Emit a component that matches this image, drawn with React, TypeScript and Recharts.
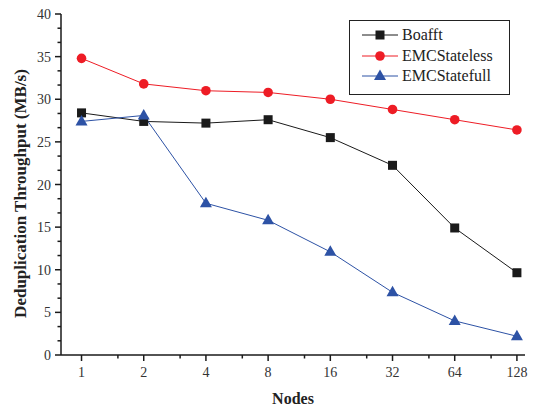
import React from 'react';
import { LineChart, Line, XAxis, YAxis, Legend } from 'recharts';

const nodes = [1, 2, 4, 8, 16, 32, 64, 128];
const boafft = [28.4, 27.4, 27.2, 27.6, 25.5, 22.25, 14.9, 9.65];
const emcStateless = [34.8, 31.8, 31.0, 30.8, 30.0, 28.8, 27.6, 26.4];
const emcStatefull = [27.4, 28.1, 17.8, 15.8, 12.1, 7.35, 4.0, 2.2];

const data = nodes.map((n, i) => ({
  x: Math.log2(n),
  Boafft: boafft[i],
  EMCStateless: emcStateless[i],
  EMCStatefull: emcStatefull[i],
}));

const FONT = '"Liberation Serif", "Times New Roman", serif';
const BLACK = '#1a1a1a';
const RED = '#ee1c25';
const BLUE = '#2d52a5';

const xTicks: number[] = [];
for (let k = 0; k <= 7; k++) {
  xTicks.push(k);
  if (k < 7) xTicks.push(k + Math.log2(1.5));
}
const yTicks: number[] = [];
for (let i = 0; i <= 24; i++) yTicks.push((i * 5) / 3);

const Square = (props: any) => {
  const { cx, cy, fill } = props;
  if (cx == null || cy == null) return null;
  return <rect x={cx - 4.5} y={cy - 4.5} width={9} height={9} fill={fill} />;
};
const Circle = (props: any) => {
  const { cx, cy, fill } = props;
  if (cx == null || cy == null) return null;
  return <circle cx={cx} cy={cy} r={4.8} fill={fill} />;
};
const Triangle = (props: any) => {
  const { cx, cy, fill } = props;
  if (cx == null || cy == null) return null;
  return <polygon points={`${cx},${cy - 6.5} ${cx + 6},${cy + 4} ${cx - 6},${cy + 4}`} fill={fill} />;
};

const series = [
  { key: 'Boafft', color: BLACK, Shape: Square },
  { key: 'EMCStateless', color: RED, Shape: Circle },
  { key: 'EMCStatefull', color: BLUE, Shape: Triangle },
];

const XTick = (props: any) => {
  const { x, y, payload } = props;
  const v = payload.value;
  const major = Math.abs(v - Math.round(v)) < 1e-6;
  return (
    <g>
      <line x1={x} x2={x} y1={y} y2={y + (major ? 6 : 3.5)} stroke={BLACK} strokeWidth={1.5} />
      {major && (
        <text x={x} y={y + 22} textAnchor="middle" fontFamily={FONT} fontSize={14} fill="#333">
          {nodes[Math.round(v)]}
        </text>
      )}
    </g>
  );
};

const YTick = (props: any) => {
  const { x, y, payload } = props;
  const v = payload.value;
  const major = Math.abs(v / 5 - Math.round(v / 5)) < 1e-6;
  return (
    <g>
      <line x1={x - (major ? 6 : 3.5)} x2={x} y1={y} y2={y} stroke={BLACK} strokeWidth={1.5} />
      {major && (
        <text x={x - 10} y={y + 5} textAnchor="end" fontFamily={FONT} fontSize={14} fill="#333">
          {Math.round(v)}
        </text>
      )}
    </g>
  );
};

const LegendBox = () => (
  <div
    style={{
      border: '1px solid #222',
      background: '#fff',
      width: 159,
      height: 69,
      boxSizing: 'content-box',
      fontFamily: FONT,
      fontSize: 16,
      color: '#222',
      paddingTop: 4,
    }}
  >
    {series.map((s) => (
      <div key={s.key} style={{ display: 'flex', alignItems: 'center', height: 20.5 }}>
        <svg width={52} height={14} style={{ marginLeft: 10 }}>
          <line x1={2} x2={38} y1={7} y2={7} stroke={s.color} strokeWidth={1} />
          <s.Shape cx={20} cy={7} fill={s.color} />
        </svg>
        <span style={{ marginLeft: -10 }}>{s.key}</span>
      </div>
    ))}
  </div>
);

export default function App() {
  return (
    <div style={{ position: 'absolute', left: 0, top: 0, width: 535, height: 414, background: '#fff' }}>
      <LineChart width={535} height={414} data={data} margin={{ top: 14, right: 10, bottom: 0, left: 0 }}>
        <XAxis
          type="number"
          dataKey="x"
          domain={[-0.33, 7.13]}
          ticks={xTicks}
          interval={0}
          allowDataOverflow
          height={59}
          tickSize={0}
          tickMargin={0}
          tickLine={false}
          tick={<XTick />}
          axisLine={{ stroke: BLACK, strokeWidth: 1.5 }}
          label={{
            content: (p: any) => {
              const vb = p.viewBox;
              return (
                <text
                  x={vb.x + vb.width / 2}
                  y={vb.y + 49}
                  textAnchor="middle"
                  fontFamily={FONT}
                  fontSize={16}
                  fontWeight="bold"
                  fill="#222"
                >
                  Nodes
                </text>
              );
            },
          }}
        />
        <YAxis
          type="number"
          domain={[0, 40]}
          ticks={yTicks}
          interval={0}
          width={61}
          tickSize={0}
          tickMargin={0}
          tickLine={false}
          tick={<YTick />}
          axisLine={{ stroke: BLACK, strokeWidth: 1.5 }}
          label={{
            content: (p: any) => {
              const vb = p.viewBox;
              const cx = vb.x + 20;
              const cy = vb.y + vb.height / 2 + 9;
              return (
                <text
                  x={cx}
                  y={cy}
                  transform={`rotate(-90 ${cx} ${cy})`}
                  textAnchor="middle"
                  dominantBaseline="central"
                  fontFamily={FONT}
                  fontSize={17}
                  fontWeight="bold"
                  fill="#222"
                >
                  Deduplication Throughput (MB/s)
                </text>
              );
            },
          }}
        />
        <Legend
          layout="vertical"
          align="center"
          verticalAlign="middle"
          content={<LegendBox />}
          wrapperStyle={{ position: 'absolute', left: 349, top: 20, width: 'auto' }}
        />
        {series.map((s) => (
          <Line
            key={s.key}
            dataKey={s.key}
            stroke={s.color}
            strokeWidth={1}
            isAnimationActive={false}
            dot={<s.Shape fill={s.color} />}
            activeDot={false}
          />
        ))}
      </LineChart>
    </div>
  );
}
